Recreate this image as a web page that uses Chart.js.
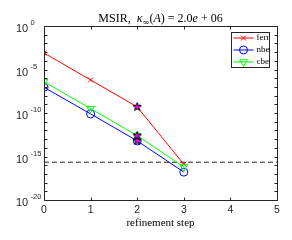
<!DOCTYPE html>
<html><head><meta charset="utf-8">
<script src="https://cdn.jsdelivr.net/npm/chart.js@4"></script>
<style>html,body{margin:0;padding:0;background:#fff}</style>
</head><body>
<canvas id="c" width="292" height="240"></canvas>
<script>
// refinement steps and error measures (log scale)
const steps = [0, 1, 2, 3];
const ferr = [7.9e-4, 6.3e-7, 5.0e-10, 1.3e-16];
const nbe = [8.9e-8, 7.9e-11, 6.3e-14, 1.6e-17];
const cbe = [4.0e-7, 3.2e-10, 2.5e-13, 6.3e-17];
const unitRoundoff = 2.22e-16;
const starStep = 2;
const xTicks = [0, 1, 2, 3, 4, 5];
const yTickExps = [0, -5, -10, -15, -20];

const pts = arr => steps.map((s, i) => ({ x: s, y: arr[i] }));
const si = steps.indexOf(starStep);

// pentagram marker, black edge, magenta fill
function pentagram(size) {
  const cv = document.createElement('canvas');
  cv.width = size; cv.height = size;
  const g = cv.getContext('2d');
  const c = size / 2, R = size / 2 - 0.7, r = R * 0.42;
  g.beginPath();
  for (let k = 0; k < 10; k++) {
    const a = -Math.PI / 2 + k * Math.PI / 5;
    const rr = k % 2 ? r : R;
    g.lineTo(c + rr * Math.cos(a), c + rr * Math.sin(a));
  }
  g.closePath();
  g.fillStyle = '#ff00ff'; g.fill();
  g.strokeStyle = '#000'; g.lineWidth = 1; g.stroke();
  return cv;
}
const star = pentagram(10);

const legendItems = [
  { text: 'ferr', color: '#ff0000', pointStyle: 'crossRot', radius: 3.5, rotation: 0 },
  { text: 'nbe', color: '#0000ff', pointStyle: 'circle', radius: 4, rotation: 0 },
  { text: 'cbe', color: '#00ff00', pointStyle: 'triangle', radius: 4.5, rotation: 180 }
];

const axisColor = '#262626';

const decor = {
  id: 'decor',
  afterDraw(chart) {
    const ctx = chart.ctx, a = chart.chartArea;
    const xs = chart.scales.x, ys = chart.scales.y;
    const L = Math.round(a.left) + 0.5, R = Math.round(a.right) + 0.5;
    const T = Math.round(a.top) + 0.5, B = Math.round(a.bottom) + 0.5;
    ctx.save();
    ctx.strokeStyle = axisColor; ctx.lineWidth = 1;
    ctx.strokeRect(L, T, R - L, B - T);
    // inward ticks
    ctx.beginPath();
    for (const v of xTicks) {
      const x = Math.round(xs.getPixelForValue(v)) + 0.5;
      ctx.moveTo(x, B); ctx.lineTo(x, B - 3);
      ctx.moveTo(x, T); ctx.lineTo(x, T + 3);
    }
    for (let e = 0; e >= -20; e--) {
      const y = Math.round(ys.getPixelForValue(Math.pow(10, e))) + 0.5;
      ctx.moveTo(L, y); ctx.lineTo(L + 3, y);
      ctx.moveTo(R, y); ctx.lineTo(R - 3, y);
    }
    ctx.stroke();
    // y tick labels 10^e
    ctx.fillStyle = axisColor;
    ctx.textBaseline = 'middle';
    for (const e of yTickExps) {
      const y = ys.getPixelForValue(Math.pow(10, e));
      ctx.font = '11px "Liberation Sans"';
      ctx.textAlign = 'left';
      ctx.fillText('10', 16, y + 3);
      ctx.font = '7.5px "Liberation Sans"';
      ctx.fillText(e === 0 ? '0' : '-' + (-e), 30.5, y - 3);
    }
    // title with math parts
    const parts = [
      ['MSIR,  ', '12px "Liberation Serif"', 0],
      ['\u03BA', 'italic 12px "Liberation Serif"', 0],
      ['\u221E', '8.5px "DejaVu Serif"', 3],
      ['(', '12px "Liberation Serif"', 0],
      ['A', 'italic 12px "Liberation Serif"', 0],
      [') = 2.0', '12px "Liberation Serif"', 0],
      ['e', 'italic 12px "Liberation Serif"', 0],
      [' + 06', '12px "Liberation Serif"', 0]
    ];
    let w = 0;
    for (const p of parts) { ctx.font = p[1]; w += ctx.measureText(p[0]).width; }
    let tx = (a.left + a.right) / 2 - w / 2;
    ctx.textBaseline = 'alphabetic';
    ctx.fillStyle = '#000';
    for (const p of parts) {
      ctx.font = p[1];
      ctx.fillText(p[0], tx, 22 + p[2]);
      tx += ctx.measureText(p[0]).width;
    }
    // legend box
    const bx = 231.5, by = 32.5, bw = 38, bh = 35;
    ctx.fillStyle = '#fff';
    ctx.fillRect(bx, by, bw, bh);
    ctx.strokeStyle = axisColor;
    ctx.strokeRect(bx, by, bw, bh);
    legendItems.forEach((it, i) => {
      const y = by + 5.5 + i * 12;
      ctx.strokeStyle = it.color; ctx.lineWidth = 1;
      ctx.beginPath(); ctx.moveTo(bx + 2, y); ctx.lineTo(bx + 22, y); ctx.stroke();
      ctx.fillStyle = 'rgba(0,0,0,0)';
      Chart.helpers.drawPoint(ctx, { pointStyle: it.pointStyle, radius: it.radius, rotation: it.rotation, borderWidth: 1 }, bx + 12, y);
      ctx.fillStyle = '#000';
      ctx.font = '9px "Liberation Serif"';
      ctx.textBaseline = 'middle';
      ctx.fillText(it.text, bx + 25, y);
    });
    ctx.restore();
  }
};

new Chart(document.getElementById('c').getContext('2d'), {
  type: 'line',
  data: {
    datasets: [
      { label: 'stars', data: [{ x: starStep, y: ferr[si] }, { x: starStep, y: nbe[si] }, { x: starStep, y: cbe[si] }],
        showLine: false, pointStyle: star, pointRadius: 5, order: 0 },
      { label: 'ferr', data: pts(ferr), borderColor: '#ff0000', backgroundColor: 'rgba(0,0,0,0)',
        pointStyle: 'crossRot', pointRadius: 3.5, borderWidth: 1, pointBorderWidth: 1, order: 3 },
      { label: 'nbe', data: pts(nbe), borderColor: '#0000ff', backgroundColor: 'rgba(0,0,0,0)',
        pointStyle: 'circle', pointRadius: 4, borderWidth: 1, pointBorderWidth: 1, order: 2 },
      { label: 'cbe', data: pts(cbe), borderColor: '#00ff00', backgroundColor: 'rgba(0,0,0,0)',
        pointStyle: 'triangle', pointRotation: 180, pointRadius: 4.5, borderWidth: 1, pointBorderWidth: 1, order: 1 },
      { label: 'u', data: [{ x: 0, y: unitRoundoff }, { x: 5, y: unitRoundoff }], borderColor: '#222',
        borderDash: [5, 3], borderWidth: 1, pointRadius: 0, order: 4 }
    ]
  },
  options: {
    responsive: false, animation: false, devicePixelRatio: 1,
    layout: { padding: { top: 26, right: 15, left: 0, bottom: 0 } },
    plugins: { legend: { display: false }, title: { display: false }, tooltip: { enabled: false } },
    scales: {
      x: {
        type: 'linear', min: 0, max: 5,
        afterBuildTicks: s => { s.ticks = xTicks.map(v => ({ value: v })); },
        afterFit: s => { s.height = 40; },
        grid: { display: false, tickLength: 0 }, border: { display: false },
        ticks: { color: axisColor, font: { family: 'Liberation Sans', size: 10.5 }, padding: 4, maxRotation: 0 },
        title: { display: true, text: 'refinement step', color: '#000',
          font: { family: 'Liberation Serif', size: 11 }, padding: { top: 0, bottom: 10 } }
      },
      y: {
        type: 'logarithmic', min: 1e-20, max: 1,
        afterFit: s => { s.width = 44; },
        grid: { display: false }, border: { display: false },
        ticks: { display: false }
      }
    }
  },
  plugins: [decor]
});
</script>
</body></html>
